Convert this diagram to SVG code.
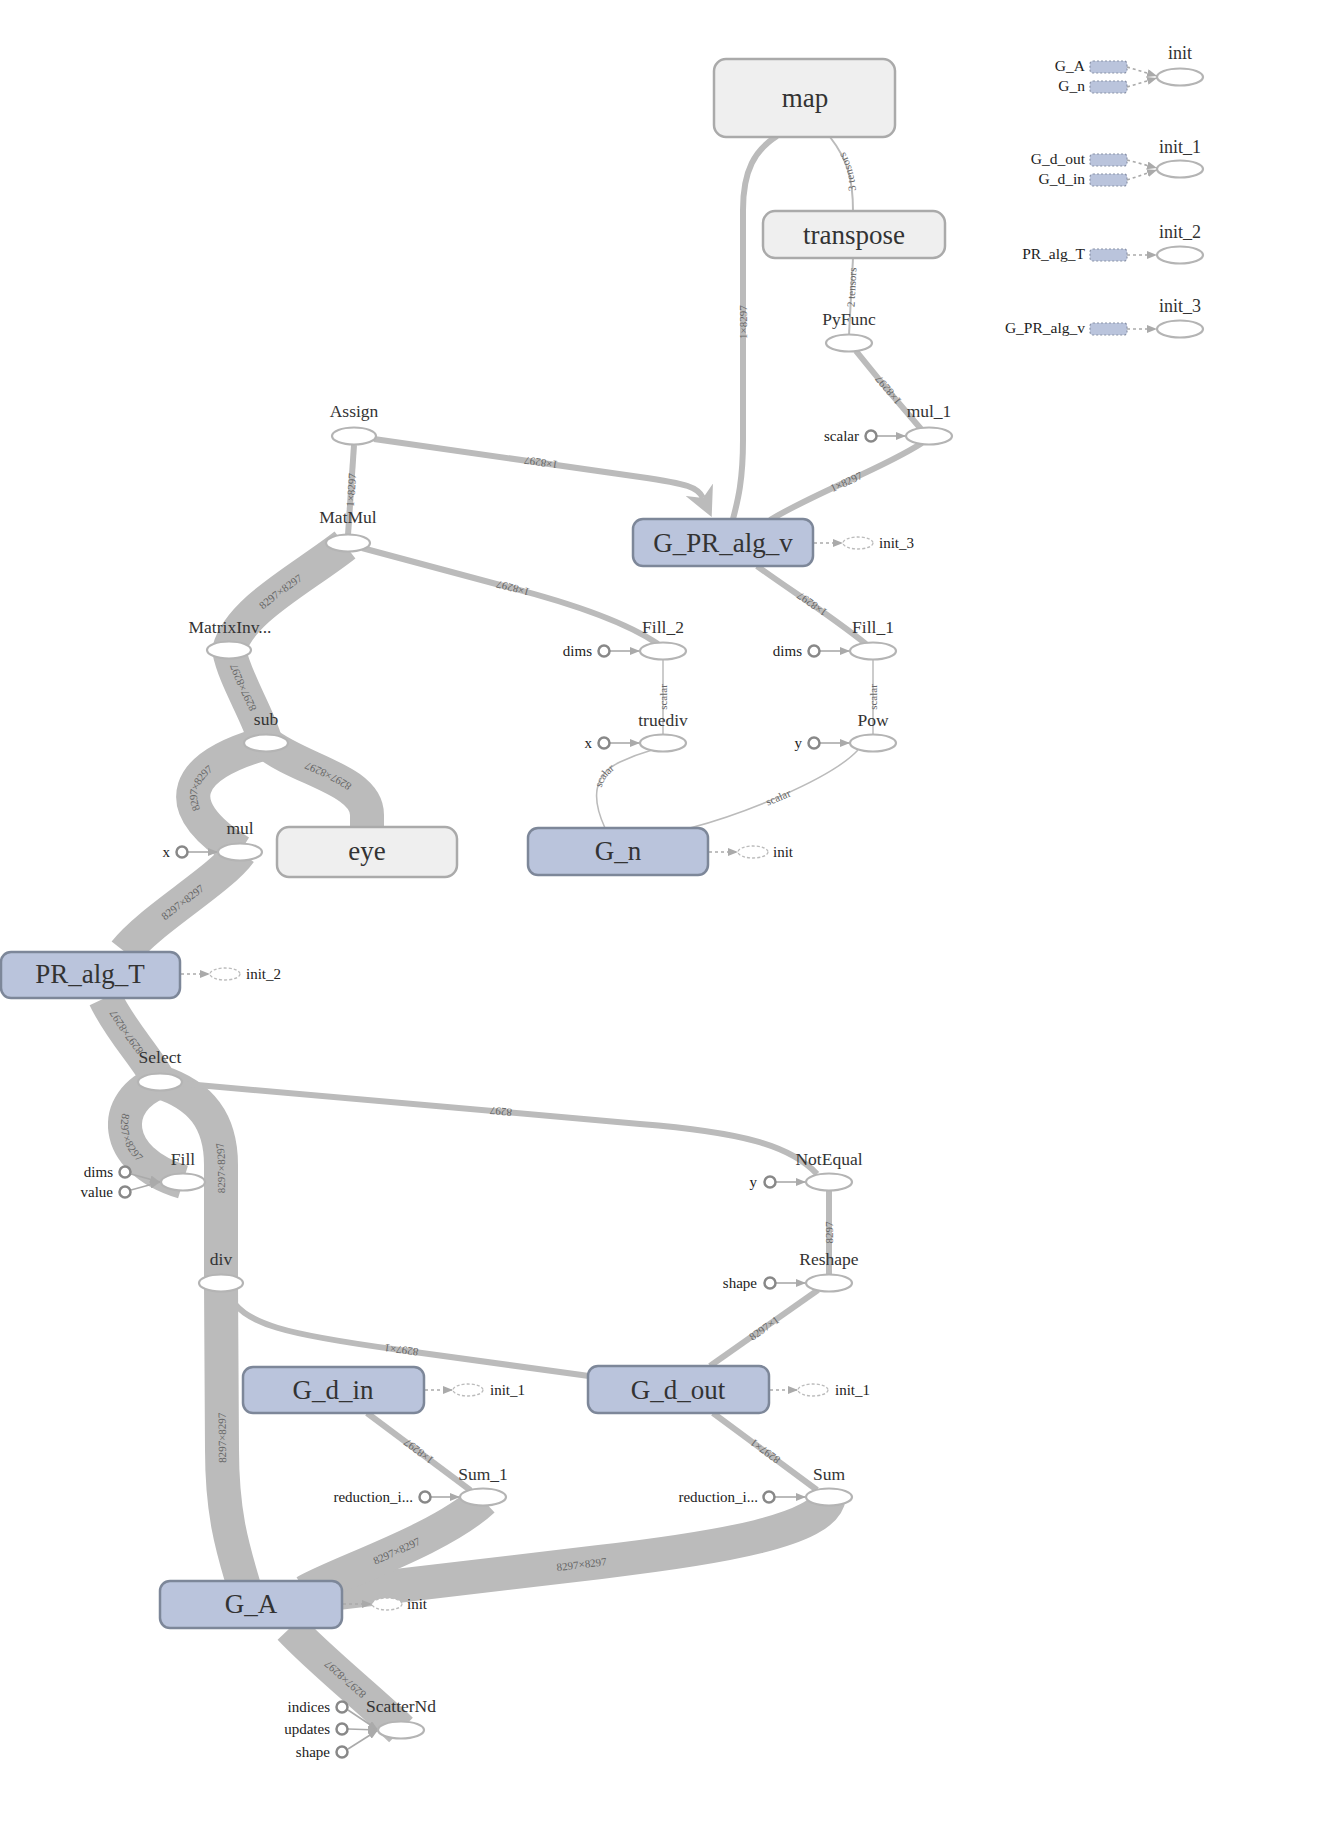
<svg xmlns="http://www.w3.org/2000/svg" width="1323" height="1837" viewBox="0 0 1323 1837">
<style>
.edge{fill:none;stroke:#bbb;stroke-linecap:butt}
.m{stroke-width:6}
.t{stroke-width:34}
.s{stroke-width:1.5}
.n{stroke-width:2}
.op{fill:#fff;stroke:#b4b4b4;stroke-width:2.2}
.meta{fill:#efefef;stroke:#aaa;stroke-width:2.5}
.var{fill:#bac4dc;stroke:#7d8799;stroke-width:2.5}
.cst{fill:#fff;stroke:#888;stroke-width:2.5}
.ctrl{fill:none;stroke:#aaa;stroke-width:1.6;stroke-dasharray:3,3}
.inp{fill:none;stroke:#aaa;stroke-width:1.6}
.ini{fill:#fff;stroke:#bbb;stroke-width:1.3;stroke-dasharray:3,2}
.lgb{fill:#bac4dc;stroke:#8a93a8;stroke-width:1.2;stroke-dasharray:2,2}
.big{font-family:"Liberation Serif",serif;font-size:27px;fill:#333;text-anchor:middle}
.lbl{font-family:"Liberation Serif",serif;font-size:17.5px;fill:#333;text-anchor:middle}
.in{font-family:"Liberation Serif",serif;font-size:15px;fill:#222;text-anchor:end}
.il{font-family:"Liberation Serif",serif;font-size:15px;fill:#222}
.el{font-family:"Liberation Serif",serif;font-size:11px;fill:#666;text-anchor:middle;dominant-baseline:central}
</style>
<defs>
<marker id="arr" markerUnits="userSpaceOnUse" viewBox="0 0 10 8" markerWidth="10" markerHeight="8" refX="10" refY="4" orient="auto"><path d="M0,0 L10,4 L0,8 z" fill="#aaa"/></marker>
<marker id="bigarr" markerUnits="strokeWidth" viewBox="0 0 10 10" markerWidth="5" markerHeight="5" refX="3" refY="5" orient="auto-start-reverse"><path d="M0,0 L10,5 L0,10 L3,5 z" fill="#bbb"/></marker>
</defs>
<rect width="1323" height="1837" fill="#fff"/>

<g id="connectors">
<path id="e1" class="edge m" d="M 733,519 C 738,500 743,480 743,440 L 743,210 C 743,170 755,150 777,136"/>
<path id="e2" class="edge n" d="M 853,211 C 853,180 848,160 830,137"/>
<path id="e3" class="edge n" d="M 849,335 L 853,258"/>
<path id="e4" class="edge m" d="M 921,429 C 900,405 875,375 856,351"/>
<path id="e5" class="edge m" d="M 770,520 C 820,490 880,470 922,443"/>
<path id="e6" class="edge m" d="M 703,498 C 698,487 688,484 640,477 L 374,439" marker-start="url(#bigarr)"/>
<path id="e7" class="edge m" d="M 348,535 L 354,445"/>
<path id="e8" class="edge m" d="M 658,644 C 630,625 580,605 500,585 L 362,548"/>
<path id="e9" class="edge t" d="M 229,650 C 240,610 300,580 345,545"/>
<path id="e10" class="edge t" d="M 266,743 C 257,712 235,680 229,650"/>
<path id="e11" class="edge t" d="M 240,852 C 165,805 185,765 266,743"/>
<path id="e12" class="edge t" d="M 367,827 L 367,815 C 367,780 300,770 266,743"/>
<path id="e13" class="edge t" d="M 125,952 C 150,920 220,880 240,852"/>
<path id="e14" class="edge t" d="M 160,1082 C 145,1055 120,1030 105,998"/>
<path id="e15" class="edge t" d="M 160,1082 C 110,1100 110,1160 183,1182"/>
<path id="e16" class="edge t" d="M 221,1283 L 221,1165 C 221,1120 200,1095 160,1082"/>
<path id="e17" class="edge m" d="M 817,1174 C 790,1145 740,1132 640,1124 L 175,1083"/>
<path id="e18" class="edge m" d="M 829,1275 L 829,1190"/>
<path id="e19" class="edge m" d="M 710,1366 L 818,1290"/>
<path id="e20" class="edge m" d="M 589,1376 L 400,1350 C 290,1335 240,1325 228,1292"/>
<path id="e21" class="edge m" d="M 817,1490 L 713,1413"/>
<path id="e22" class="edge m" d="M 470,1490 L 367,1413"/>
<path id="e23" class="edge t" d="M 320,1595 L 600,1562 C 720,1548 825,1530 829,1497"/>
<path id="e24" class="edge t" d="M 305,1592 C 340,1572 440,1540 483,1500"/>
<path id="e25" class="edge t" d="M 401,1730 C 370,1700 320,1660 290,1628"/>
<path id="e26" class="edge t" d="M 245,1590 C 235,1555 222,1520 222,1450 L 221,1283"/>
<path id="e27" class="edge s" d="M 663,735 L 663,659"/>
<path id="e28" class="edge s" d="M 873,735 L 873,659"/>
<path id="e29" class="edge s" d="M 605,828 C 592,800 592,775 620,762 C 635,755 645,752 652,750"/>
<path id="e30" class="edge s" d="M 690,828 C 740,815 830,780 858,750"/>
<path id="e31" class="edge m" d="M 866,644 C 830,615 790,590 757,566"/>

<text class="el"><textPath href="#e1" startOffset="50%">1×8297</textPath></text>
<text class="el"><textPath href="#e2" startOffset="50%">3 tensors</textPath></text>
<text class="el"><textPath href="#e3" startOffset="62%">2 tensors</textPath></text>
<text class="el"><textPath href="#e4" startOffset="50%">1×8297</textPath></text>
<text class="el"><textPath href="#e5" startOffset="50%">1×8297</textPath></text>
<text class="el"><textPath href="#e6" startOffset="50%">1×8297</textPath></text>
<text class="el"><textPath href="#e7" startOffset="50%">1×8297</textPath></text>
<text class="el"><textPath href="#e8" startOffset="50%">1×8297</textPath></text>
<text class="el"><textPath href="#e9" startOffset="50%">8297×8297</textPath></text>
<text class="el"><textPath href="#e10" startOffset="60%">8297×8297</textPath></text>
<text class="el"><textPath href="#e11" startOffset="50%">8297×8297</textPath></text>
<text class="el"><textPath href="#e12" startOffset="50%">8297×8297</textPath></text>
<text class="el"><textPath href="#e13" startOffset="50%">8297×8297</textPath></text>
<text class="el"><textPath href="#e14" startOffset="60%">8297×8297</textPath></text>
<text class="el"><textPath href="#e15" startOffset="50%">8297×8297</textPath></text>
<text class="el"><textPath href="#e16" startOffset="50%">8297×8297</textPath></text>
<text class="el"><textPath href="#e17" startOffset="50%">8297</textPath></text>
<text class="el"><textPath href="#e18" startOffset="50%">8297</textPath></text>
<text class="el"><textPath href="#e19" startOffset="50%">8297×1</textPath></text>
<text class="el"><textPath href="#e20" startOffset="50%">8297×1</textPath></text>
<text class="el"><textPath href="#e21" startOffset="50%">8297×1</textPath></text>
<text class="el"><textPath href="#e22" startOffset="50%">1×8297</textPath></text>
<text class="el"><textPath href="#e23" startOffset="50%">8297×8297</textPath></text>
<text class="el"><textPath href="#e24" startOffset="50%">8297×8297</textPath></text>
<text class="el"><textPath href="#e25" startOffset="50%">8297×8297</textPath></text>
<text class="el"><textPath href="#e26" startOffset="50%">8297×8297</textPath></text>
<text class="el"><textPath href="#e27" startOffset="50%">scalar</textPath></text>
<text class="el"><textPath href="#e28" startOffset="50%">scalar</textPath></text>
<text class="el"><textPath href="#e29" startOffset="50%">scalar</textPath></text>
<text class="el"><textPath href="#e30" startOffset="50%">scalar</textPath></text>
<text class="el"><textPath href="#e31" startOffset="50%">1×8297</textPath></text>

<!-- constant inputs -->
<path class="inp" d="M 877,436 L 906,436" marker-end="url(#arr)"/>
<path class="inp" d="M 610,651 L 640,651" marker-end="url(#arr)"/>
<path class="inp" d="M 820,651 L 850,651" marker-end="url(#arr)"/>
<path class="inp" d="M 610,743 L 640,743" marker-end="url(#arr)"/>
<path class="inp" d="M 820,743 L 850,743" marker-end="url(#arr)"/>
<path class="inp" d="M 188,852 L 218,852" marker-end="url(#arr)"/>
<path class="inp" d="M 131,1174 L 160,1182" marker-end="url(#arr)"/>
<path class="inp" d="M 131,1190 L 160,1182" marker-end="url(#arr)"/>
<path class="inp" d="M 776,1182 L 806,1182" marker-end="url(#arr)"/>
<path class="inp" d="M 776,1283 L 806,1283" marker-end="url(#arr)"/>
<path class="inp" d="M 431,1497 L 460,1497" marker-end="url(#arr)"/>
<path class="inp" d="M 775,1497 L 806,1497" marker-end="url(#arr)"/>
<path class="inp" d="M 348,1710 L 378,1730" marker-end="url(#arr)"/>
<path class="inp" d="M 348,1729 L 378,1730" marker-end="url(#arr)"/>
<path class="inp" d="M 348,1749 L 378,1730" marker-end="url(#arr)"/>

<!-- control edges -->
<path class="ctrl" d="M 814,543 L 843,543" marker-end="url(#arr)"/>
<path class="ctrl" d="M 709,852 L 738,852" marker-end="url(#arr)"/>
<path class="ctrl" d="M 181,974 L 210,974" marker-end="url(#arr)"/>
<path class="ctrl" d="M 425,1390 L 453,1390" marker-end="url(#arr)"/>
<path class="ctrl" d="M 770,1390 L 798,1390" marker-end="url(#arr)"/>
<path class="ctrl" d="M 343,1604 L 372,1604" marker-end="url(#arr)"/>
<path class="ctrl" d="M 1127,67 L 1157,76" marker-end="url(#arr)"/>
<path class="ctrl" d="M 1127,87 L 1157,78" marker-end="url(#arr)"/>
<path class="ctrl" d="M 1127,160 L 1157,168" marker-end="url(#arr)"/>
<path class="ctrl" d="M 1127,180 L 1157,170" marker-end="url(#arr)"/>
<path class="ctrl" d="M 1127,255 L 1157,255" marker-end="url(#arr)"/>
<path class="ctrl" d="M 1127,329 L 1157,329" marker-end="url(#arr)"/>
</g>

<g id="map"><rect class="meta" x="714" y="59" width="181" height="78" rx="12"/><text class="big" x="805" y="107">map</text></g>
<g id="transpose"><rect class="meta" x="763" y="211" width="182" height="47" rx="12"/><text class="big" x="854" y="244">transpose</text></g>
<g id="PyFunc"><ellipse class="op" cx="849" cy="343" rx="23" ry="8.5"/><text class="lbl" x="849" y="325">PyFunc</text></g>
<g id="mul_1"><ellipse class="op" cx="929" cy="436" rx="23" ry="8.5"/><text class="lbl" x="929" y="417">mul_1</text><circle class="cst" cx="871" cy="436" r="5.5"/><text class="in" x="859" y="441">scalar</text></g>
<g id="Assign"><ellipse class="op" cx="354" cy="436" rx="22" ry="8.5"/><text class="lbl" x="354" y="417">Assign</text></g>
<g id="MatMul"><ellipse class="op" cx="348" cy="543" rx="22" ry="8.5"/><text class="lbl" x="348" y="523">MatMul</text></g>
<g id="G_PR_alg_v"><rect class="var" x="633" y="519" width="180" height="47" rx="10"/><text class="big" x="723" y="552">G_PR_alg_v</text><ellipse class="ini" cx="858" cy="543" rx="15" ry="6"/><text class="il" x="879" y="548">init_3</text></g>
<g id="Fill_2"><ellipse class="op" cx="663" cy="651" rx="23" ry="8.5"/><text class="lbl" x="663" y="633">Fill_2</text><circle class="cst" cx="604" cy="651" r="5.5"/><text class="in" x="592" y="656">dims</text></g>
<g id="Fill_1"><ellipse class="op" cx="873" cy="651" rx="23" ry="8.5"/><text class="lbl" x="873" y="633">Fill_1</text><circle class="cst" cx="814" cy="651" r="5.5"/><text class="in" x="802" y="656">dims</text></g>
<g id="truediv"><ellipse class="op" cx="663" cy="743" rx="23" ry="8.5"/><text class="lbl" x="663" y="726">truediv</text><circle class="cst" cx="604" cy="743" r="5.5"/><text class="in" x="592" y="748">x</text></g>
<g id="Pow"><ellipse class="op" cx="873" cy="743" rx="23" ry="8.5"/><text class="lbl" x="873" y="726">Pow</text><circle class="cst" cx="814" cy="743" r="5.5"/><text class="in" x="802" y="748">y</text></g>
<g id="G_n"><rect class="var" x="528" y="828" width="180" height="47" rx="10"/><text class="big" x="618" y="860">G_n</text><ellipse class="ini" cx="753" cy="852" rx="15" ry="6"/><text class="il" x="773" y="857">init</text></g>
<g id="MatrixInv"><ellipse class="op" cx="229" cy="650" rx="22" ry="8.5"/><text class="lbl" x="230" y="633">MatrixInv...</text></g>
<g id="sub"><ellipse class="op" cx="266" cy="743" rx="22" ry="8.5"/><text class="lbl" x="266" y="725">sub</text></g>
<g id="mul"><ellipse class="op" cx="240" cy="852" rx="22" ry="8.5"/><text class="lbl" x="240" y="834">mul</text><circle class="cst" cx="182" cy="852" r="5.5"/><text class="in" x="170" y="857">x</text></g>
<g id="eye"><rect class="meta" x="277" y="827" width="180" height="50" rx="12"/><text class="big" x="367" y="860">eye</text></g>
<g id="PR_alg_T"><rect class="var" x="1" y="952" width="179" height="46" rx="10"/><text class="big" x="90" y="983">PR_alg_T</text><ellipse class="ini" cx="225" cy="974" rx="15" ry="6"/><text class="il" x="246" y="979">init_2</text></g>
<g id="Select"><ellipse class="op" cx="160" cy="1082" rx="22" ry="8.5"/><text class="lbl" x="160" y="1063">Select</text></g>
<g id="Fill"><ellipse class="op" cx="183" cy="1182" rx="22" ry="8.5"/><text class="lbl" x="183" y="1165">Fill</text><circle class="cst" cx="125" cy="1172" r="5.5"/><text class="in" x="113" y="1177">dims</text><circle class="cst" cx="125" cy="1192" r="5.5"/><text class="in" x="113" y="1197">value</text></g>
<g id="div"><ellipse class="op" cx="221" cy="1283" rx="22" ry="8.5"/><text class="lbl" x="221" y="1265">div</text></g>
<g id="NotEqual"><ellipse class="op" cx="829" cy="1182" rx="23" ry="8.5"/><text class="lbl" x="829" y="1165">NotEqual</text><circle class="cst" cx="770" cy="1182" r="5.5"/><text class="in" x="757" y="1187">y</text></g>
<g id="Reshape"><ellipse class="op" cx="829" cy="1283" rx="23" ry="8.5"/><text class="lbl" x="829" y="1265">Reshape</text><circle class="cst" cx="770" cy="1283" r="5.5"/><text class="in" x="757" y="1288">shape</text></g>
<g id="G_d_in"><rect class="var" x="243" y="1367" width="181" height="46" rx="10"/><text class="big" x="333" y="1399">G_d_in</text><ellipse class="ini" cx="468" cy="1390" rx="15" ry="6"/><text class="il" x="490" y="1395">init_1</text></g>
<g id="G_d_out"><rect class="var" x="588" y="1366" width="181" height="47" rx="10"/><text class="big" x="678" y="1399">G_d_out</text><ellipse class="ini" cx="813" cy="1390" rx="15" ry="6"/><text class="il" x="835" y="1395">init_1</text></g>
<g id="Sum_1"><ellipse class="op" cx="483" cy="1497" rx="23" ry="8.5"/><text class="lbl" x="483" y="1480">Sum_1</text><circle class="cst" cx="425" cy="1497" r="5.5"/><text class="in" x="413" y="1502">reduction_i...</text></g>
<g id="Sum"><ellipse class="op" cx="829" cy="1497" rx="23" ry="8.5"/><text class="lbl" x="829" y="1480">Sum</text><circle class="cst" cx="769" cy="1497" r="5.5"/><text class="in" x="758" y="1502">reduction_i...</text></g>
<g id="G_A"><rect class="var" x="160" y="1581" width="182" height="47" rx="10"/><text class="big" x="251" y="1613">G_A</text><ellipse class="ini" cx="387" cy="1604" rx="15" ry="6"/><text class="il" x="407" y="1609">init</text></g>
<g id="ScatterNd"><ellipse class="op" cx="401" cy="1730" rx="23" ry="8.5"/><text class="lbl" x="401" y="1712">ScatterNd</text><circle class="cst" cx="342" cy="1707" r="5.5"/><text class="in" x="330" y="1712">indices</text><circle class="cst" cx="342" cy="1729" r="5.5"/><text class="in" x="330" y="1734">updates</text><circle class="cst" cx="342" cy="1752" r="5.5"/><text class="in" x="330" y="1757">shape</text></g>

<g id="legend_init"><ellipse class="op" cx="1180" cy="77" rx="23" ry="8.5"/><text class="lbl" x="1180" y="59" style="font-size:18px">init</text><rect class="lgb" x="1090" y="61" width="37" height="12" rx="3"/><text class="in" x="1085" y="71" style="font-size:15.5px">G_A</text><rect class="lgb" x="1090" y="81" width="37" height="12" rx="3"/><text class="in" x="1085" y="91" style="font-size:15.5px">G_n</text></g>
<g id="legend_init_1"><ellipse class="op" cx="1180" cy="169" rx="23" ry="8.5"/><text class="lbl" x="1180" y="153" style="font-size:18px">init_1</text><rect class="lgb" x="1090" y="154" width="37" height="12" rx="3"/><text class="in" x="1085" y="164" style="font-size:15.5px">G_d_out</text><rect class="lgb" x="1090" y="174" width="37" height="12" rx="3"/><text class="in" x="1085" y="184" style="font-size:15.5px">G_d_in</text></g>
<g id="legend_init_2"><ellipse class="op" cx="1180" cy="255" rx="23" ry="8.5"/><text class="lbl" x="1180" y="238" style="font-size:18px">init_2</text><rect class="lgb" x="1090" y="249" width="37" height="12" rx="3"/><text class="in" x="1085" y="259" style="font-size:15.5px">PR_alg_T</text></g>
<g id="legend_init_3"><ellipse class="op" cx="1180" cy="329" rx="23" ry="8.5"/><text class="lbl" x="1180" y="312" style="font-size:18px">init_3</text><rect class="lgb" x="1090" y="323" width="37" height="12" rx="3"/><text class="in" x="1085" y="333" style="font-size:15.5px">G_PR_alg_v</text></g>
</svg>
